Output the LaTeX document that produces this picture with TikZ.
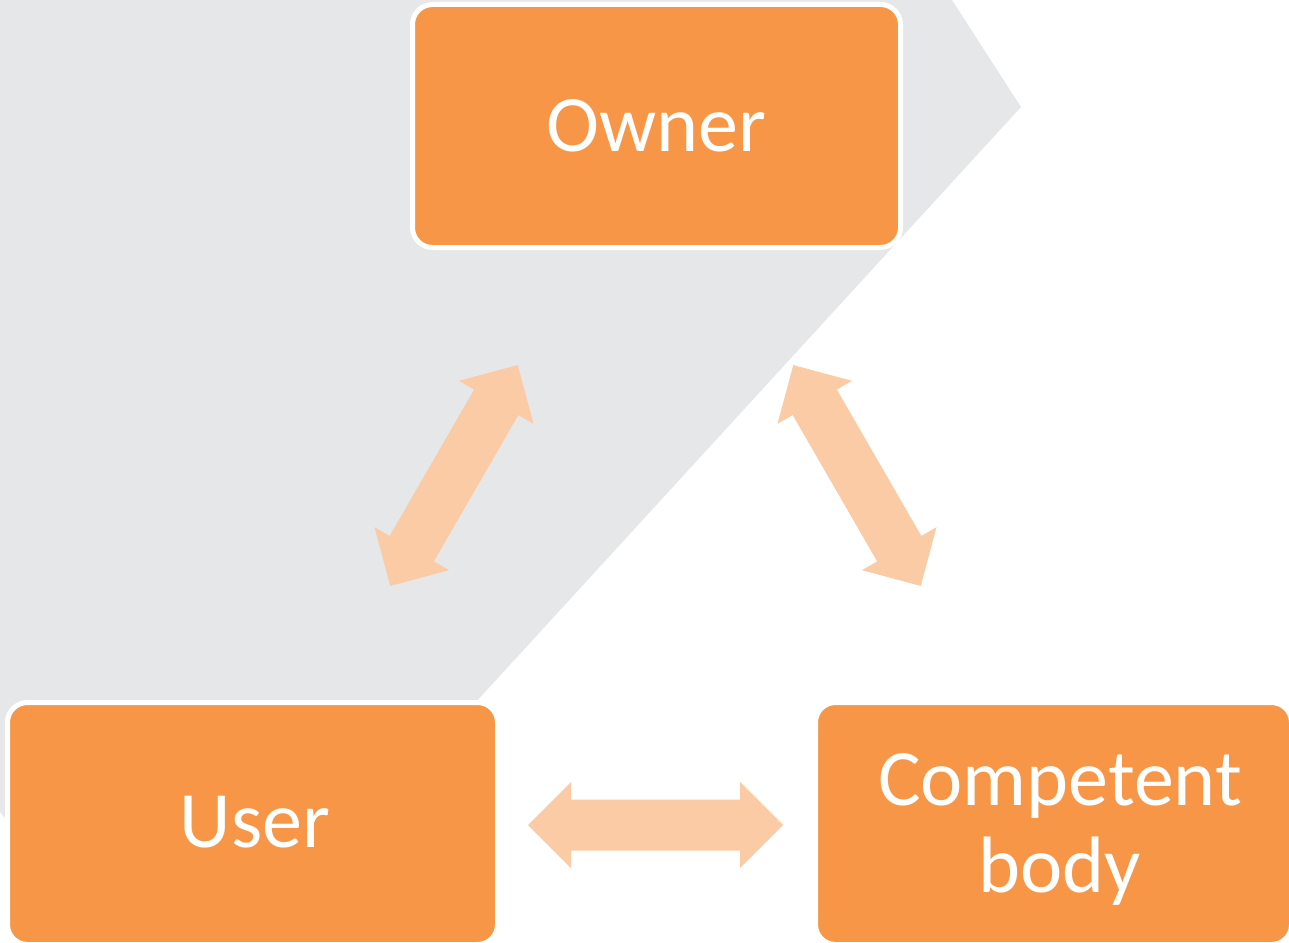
\documentclass[tikz,border=0pt]{standalone}
\usepackage{fontspec}
\setmainfont{Carlito}
\definecolor{boxorange}{HTML}{F79646}
\definecolor{arrowpeach}{HTML}{FACBA4}
\definecolor{bggray}{HTML}{E6E7E8}
\begin{document}
\begin{tikzpicture}[x=1pt,y=-1pt,
  box/.style={draw=white, line width=5pt, fill=boxorange, rounded corners=20pt,
    inner sep=0pt, text=white, font=\fontsize{80}{87}\selectfont, align=center},
  label/.style={text=white, font=\fontsize{80}{87}\selectfont, align=center, inner sep=0pt},
  dblarrow/.pic={
    \fill[arrowpeach] (-127.5,0) -- (-84.5,-43) -- (-84.5,-25.5) -- (84.5,-25.5)
      -- (84.5,-43) -- (127.5,0) -- (84.5,43) -- (84.5,25.5) -- (-84.5,25.5)
      -- (-84.5,43) -- cycle;}]
  \useasboundingbox (0,0) rectangle (1289,942);
  % grey backdrop panel
  \fill[bggray] (0,0) -- (952,0) -- (1021,107) -- (300,894) -- (50,872) -- (0,812) -- cycle;
  % two-way block arrows
  \pic at (454,475.5) [rotate=60] {dblarrow};
  \pic at (857,475.5) [rotate=-60] {dblarrow};
  \pic at (655.5,825) {dblarrow};
  % parties
  \node[box, minimum width=488pt, minimum height=243pt] (owner) at (656.5,126) {Owner};
  \node[box, minimum width=490pt, minimum height=242pt] (user) at (252.5,823.5) {};
  \node[label] (usertext) at (255,822) {User};
  \node[box, minimum width=476pt, minimum height=242pt] (comp) at (1053.5,823.5) {};
  \node[label] (comptext) at (1060,829) {Competent\\body};
\end{tikzpicture}
\end{document}
